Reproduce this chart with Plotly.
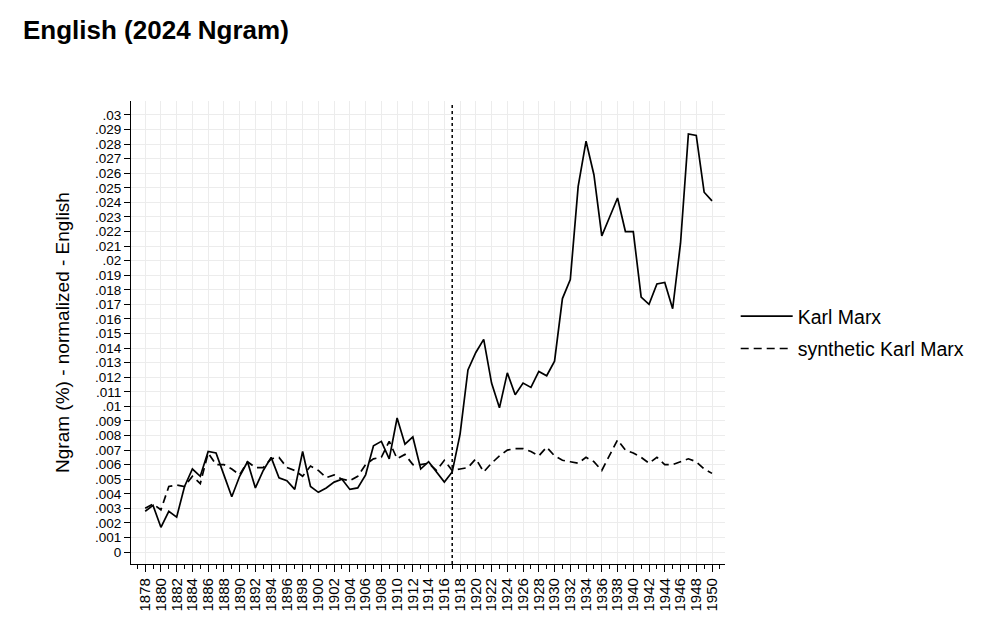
import plotly.graph_objects as go

years = list(range(1878, 1951))

karl_marx = [
    .0028, .0032, .0017, .0028, .0024, .0045, .0057, .0052, .0069, .0068,  # 1878-1887
    .0053, .0038, .0052, .0062, .0044, .0056, .0065, .0051, .0049, .0043,  # 1888-1897
    .0069, .0045, .0041, .0044, .0048, .0050, .0043, .0044, .0053, .0073,  # 1898-1907
    .0076, .0064, .0092, .0074, .0079, .0057, .0062, .0055, .0048, .0055,  # 1908-1917
    .0081, .0125, .0137, .0146, .0116, .0099, .0123, .0108, .0116, .0113,  # 1918-1927
    .0124, .0121, .0131, .0174, .0187, .0251, .0282, .0259, .0217, .0230,  # 1928-1937
    .0243, .0220, .0220, .0175, .0170, .0184, .0185, .0167, .0212, .0287,  # 1938-1947
    .0286, .0247, .0241,                                                    # 1948-1950
]

synthetic_karl_marx = [
    .0030, .0033, .0029, .0045, .0046, .0045, .0052, .0047, .0068, .0060,  # 1878-1887
    .0060, .0057, .0053, .0062, .0058, .0058, .0064, .0065, .0058, .0056,  # 1888-1897
    .0052, .0059, .0056, .0051, .0053, .0050, .0049, .0052, .0060, .0064,  # 1898-1907
    .0065, .0076, .0064, .0067, .0060, .0060, .0061, .0056, .0063, .0056,  # 1908-1917
    .0057, .0058, .0064, .0055, .0061, .0066, .0070, .0071, .0071, .0069,  # 1918-1927
    .0066, .0072, .0066, .0063, .0062, .0061, .0065, .0062, .0056, .0066,  # 1928-1937
    .0077, .0070, .0068, .0065, .0061, .0065, .0060, .0060, .0062, .0064,  # 1938-1947
    .0062, .0057, .0054,                                                    # 1948-1950
]

treatment_year = 1917

y_tick_values = [i / 1000 for i in range(0, 31)]
y_tick_labels = ["0"] + [("%.3f" % v).rstrip("0").lstrip("0") for v in y_tick_values[1:]]
x_tick_values = list(range(1878, 1951, 2))
x_tick_labels = [str(y) for y in x_tick_values]

FONT = "Liberation Sans, Arial, sans-serif"
GRID = "#ececec"

fig = go.Figure()
fig.add_trace(go.Scatter(
    x=years, y=karl_marx, mode="lines", name="Karl Marx",
    line=dict(color="black", width=1.7), legendgroup="a",
))
fig.add_trace(go.Scatter(
    x=years, y=synthetic_karl_marx, mode="lines", name="synthetic Karl Marx",
    line=dict(color="black", width=1.7, dash="8px,5px"), legendgroup="b",
))

fig.add_shape(
    type="line", xref="x", yref="paper",
    x0=treatment_year, x1=treatment_year, y0=0, y1=0.995,
    line=dict(color="black", width=1.5, dash="3px,3px"),
)

fig.update_layout(
    width=1008, height=618,
    margin=dict(l=123, r=291, t=93, b=62, autoexpand=False),
    paper_bgcolor="white", plot_bgcolor="white",
    font=dict(family=FONT, color="black"),
    title=dict(
        text="<b>English (2024 Ngram)</b>",
        font=dict(size=26, family=FONT, color="black"),
        x=15 / 1008, xref="container", xanchor="left",
        y=1 - 22 / 618, yref="container", yanchor="middle",
    ),
    showlegend=True,
    legend=dict(
        x=1.018, xanchor="left", y=0.5, yanchor="middle",
        font=dict(size=19.5, family=FONT, color="black"),
        bgcolor="rgba(0,0,0,0)", borderwidth=0,
        tracegroupgap=4, itemwidth=52,
    ),
    xaxis=dict(
        range=[1876.2, 1951.65],
        tickmode="array", tickvals=x_tick_values, ticktext=x_tick_labels,
        tickangle=-90, tickfont=dict(size=15, family=FONT, color="black"),
        ticks="outside", ticklen=7, tickcolor="black", tickwidth=1,
        minor=dict(dtick=1, tick0=1878, ticks="outside", ticklen=4,
                   tickcolor="black", tickwidth=1, showgrid=False),
        showline=True, linecolor="black", linewidth=1.2,
        showgrid=True, gridcolor=GRID, gridwidth=1,
        zeroline=False, automargin=False,
    ),
    yaxis=dict(
        range=[-0.00082, 0.03096],
        tickmode="array", tickvals=y_tick_values, ticktext=y_tick_labels,
        tickfont=dict(size=13.5, family=FONT, color="black"),
        ticks="outside", ticklen=6, tickcolor="black", tickwidth=1,
        showline=True, linecolor="black", linewidth=1.2,
        showgrid=True, gridcolor=GRID, gridwidth=1,
        zeroline=False, automargin=False,
        title=dict(text="Ngram (%) - normalized - English",
                   font=dict(size=19, family=FONT, color="black"),
                   standoff=20),
    ),
)

fig.write_html("out.html")
